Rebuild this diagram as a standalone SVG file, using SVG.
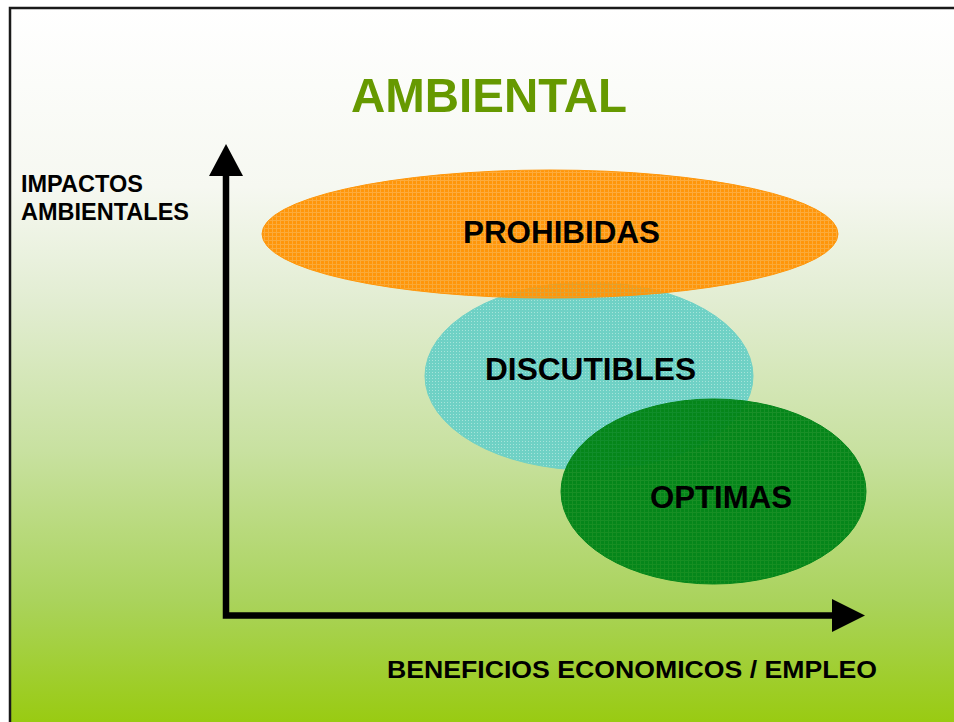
<svg xmlns="http://www.w3.org/2000/svg" width="954" height="722" viewBox="0 0 954 722">
  <defs>
    <linearGradient id="bg" x1="0" y1="8" x2="0" y2="722" gradientUnits="userSpaceOnUse">
      <stop offset="0" stop-color="#ffffff"/>
      <stop offset="0.25" stop-color="#f6f8f1"/>
      <stop offset="0.41" stop-color="#e2edd2"/>
      <stop offset="0.62" stop-color="#c8e1a0"/>
      <stop offset="0.83" stop-color="#aad35c"/>
      <stop offset="1" stop-color="#99cb12"/>
    </linearGradient>
    <pattern id="pOrange" width="4" height="4" patternUnits="userSpaceOnUse">
      <rect x="1" y="1" width="3" height="3" fill="#ff960a"/>
      <rect x="0" y="0" width="4" height="1" fill="#ff960a" fill-opacity="0.78"/>
      <rect x="0" y="1" width="1" height="3" fill="#ff960a" fill-opacity="0.78"/>
    </pattern>
    <pattern id="pTeal" width="3" height="3" patternUnits="userSpaceOnUse">
      <rect width="3" height="3" fill="#6fd1c5"/>
      <rect x="0" y="0" width="1" height="1" fill="#a6e4da"/>
    </pattern>
    <pattern id="pGreen" width="4" height="4" patternUnits="userSpaceOnUse">
      <rect x="1" y="1" width="3" height="3" fill="#05861a"/>
      <rect x="0" y="0" width="4" height="1" fill="#05861a" fill-opacity="0.9"/>
      <rect x="0" y="1" width="1" height="3" fill="#05861a" fill-opacity="0.9"/>
    </pattern>
    <style>
      .lbl{font-family:"Liberation Sans",Arial,sans-serif;font-weight:bold;fill:#000}
      .axis{stroke:#000;stroke-width:6.5;fill:none}
    </style>
  </defs>

  <rect x="0" y="0" width="954" height="722" fill="#ffffff"/>
  <rect x="10" y="8" width="944" height="714" fill="url(#bg)"/>
  <path d="M10 722 V8 H954" fill="none" stroke="#1a1a1a" stroke-width="2.5"/>

  <text x="489" y="112" text-anchor="middle" font-family="'Liberation Sans',Arial,sans-serif" font-weight="bold" font-size="49" fill="#669900" textLength="276" lengthAdjust="spacingAndGlyphs">AMBIENTAL</text>

  <g id="axis-label-y">
    <text class="lbl" x="21" y="192" font-size="23.5">IMPACTOS</text>
    <text class="lbl" x="21" y="220" font-size="23.5">AMBIENTALES</text>
  </g>
  <g id="axis-label-x">
    <text class="lbl" x="387" y="678" font-size="24" textLength="490" lengthAdjust="spacingAndGlyphs">BENEFICIOS ECONOMICOS / EMPLEO</text>
  </g>

  <g id="discutibles">
    <ellipse cx="589" cy="376" rx="164" ry="94" fill="url(#pTeal)" stroke="#6fd1c5" stroke-width="1"/>
  </g>
  <g id="prohibidas">
    <ellipse cx="550" cy="234" rx="288" ry="64" fill="url(#pOrange)" stroke="#ff960a" stroke-width="1"/>
    <text class="lbl" x="561.5" y="243" font-size="31" text-anchor="middle" textLength="197" lengthAdjust="spacingAndGlyphs">PROHIBIDAS</text>
  </g>
  <g id="optimas">
    <ellipse cx="713.5" cy="491.5" rx="152.5" ry="92.5" fill="url(#pGreen)" stroke="#05861a" stroke-width="1"/>
    <text class="lbl" x="721" y="508" font-size="31" text-anchor="middle" textLength="142" lengthAdjust="spacingAndGlyphs">OPTIMAS</text>
  </g>
  <text class="lbl" x="590.5" y="380" font-size="31" text-anchor="middle" textLength="211" lengthAdjust="spacingAndGlyphs">DISCUTIBLES</text>

  <g id="connectors">
    <path class="axis" d="M226 176 V615.5 H833"/>
    <polygon points="226,144 209,176 243,176" fill="#000"/>
    <polygon points="865,615.5 832,599 832,632" fill="#000"/>
  </g>
</svg>
